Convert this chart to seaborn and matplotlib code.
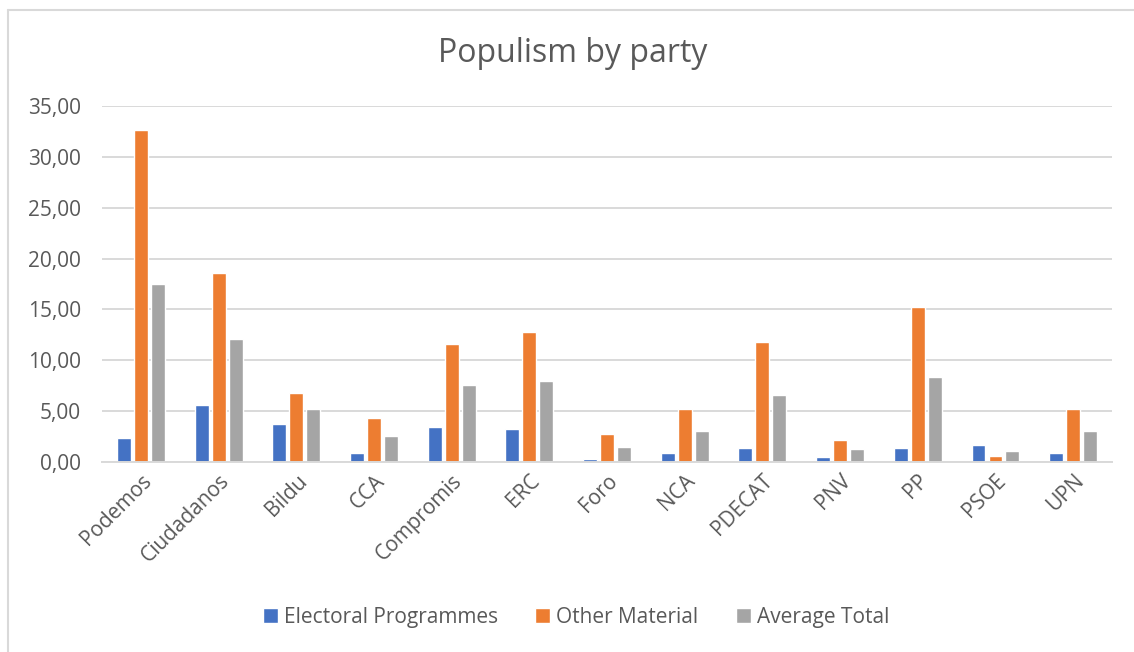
import matplotlib
matplotlib.use("Agg")
import matplotlib.pyplot as plt
from matplotlib.lines import Line2D
import seaborn as sns
import pandas as pd

parties = ["Podemos", "Ciudadanos", "Bildu", "CCA", "Compromis", "ERC", "Foro",
           "NCA", "PDECAT", "PNV", "PP", "PSOE", "UPN"]
electoral_programmes = [2.36, 5.60, 3.74, 0.90, 3.45, 3.25, 0.30, 0.90, 1.40, 0.50, 1.40, 1.70, 0.85]
other_material = [32.60, 18.60, 6.80, 4.35, 11.60, 12.80, 2.75, 5.20, 11.80, 2.15, 15.25, 0.55, 5.20]
average_total = [17.50, 12.10, 5.25, 2.60, 7.55, 8.00, 1.50, 3.05, 6.60, 1.30, 8.35, 1.10, 3.05]
series_names = ["Electoral Programmes", "Other Material", "Average Total"]
series_colors = ["#4472C4", "#ED7D31", "#A5A5A5"]
y_ticks = [0, 5, 10, 15, 20, 25, 30, 35]
y_tick_labels = ["0,00", "5,00", "10,00", "15,00", "20,00", "25,00", "30,00", "35,00"]
title = "Populism by party"

rows = []
for name, vals in zip(series_names, [electoral_programmes, other_material, average_total]):
    for p, v in zip(parties, vals):
        rows.append({"party": p, "series": name, "value": v})
df = pd.DataFrame(rows)

sns.set_theme(style="white")
plt.rcParams["font.family"] = ["Open Sans", "DejaVu Sans"]
text_color = "#595959"
grid_color = "#D9D9D9"

fig = plt.figure(figsize=(11.34, 6.52), dpi=100)
ax = fig.add_axes([0.09, 0.2914, 0.8906, 0.546])

sns.barplot(data=df, x="party", y="value", hue="series", order=parties,
            hue_order=series_names, palette=series_colors, width=0.655, gap=0.18,
            errorbar=None, ax=ax, saturation=1, legend=True)

ax.set_xlim(-0.5, len(parties) - 0.5)
ax.set_ylim(0, 35)
ax.set_yticks(y_ticks)
ax.set_yticklabels(y_tick_labels)
ax.yaxis.grid(True, color=grid_color, linewidth=1.4)
ax.set_axisbelow(True)
for s in ["top", "right", "left"]:
    ax.spines[s].set_visible(False)
ax.spines["bottom"].set_color(grid_color)
ax.spines["bottom"].set_linewidth(1.4)
ax.tick_params(axis="both", length=0, labelsize=15, colors=text_color)
ax.tick_params(axis="y", pad=15)
ax.tick_params(axis="x", pad=6)
for lbl in ax.get_xticklabels():
    lbl.set_rotation(45)
    lbl.set_ha("right")
    lbl.set_rotation_mode("anchor")
ax.set_xlabel("")
ax.set_ylabel("")

fig.text(0.505, 0.918, title, ha="center", va="center", fontsize=23, color=text_color)

handles, labels = ax.get_legend_handles_labels()
ax.legend_.remove()
fig.legend(handles, labels, loc="center", bbox_to_anchor=(0.508, 0.053), ncol=3,
           frameon=False, fontsize=15, labelcolor=text_color, handlelength=0.7,
           handleheight=0.7, handletextpad=0.3, columnspacing=1.8)

# chart frame (left and top edges visible)
fig.add_artist(Line2D([8 / 1134, 8 / 1134], [0, 1 - 10 / 652], transform=fig.transFigure,
                      color=grid_color, linewidth=1.5))
fig.add_artist(Line2D([8 / 1134, 1], [1 - 10 / 652, 1 - 10 / 652], transform=fig.transFigure,
                      color=grid_color, linewidth=1.5))

fig.savefig("out.png", dpi=100)
